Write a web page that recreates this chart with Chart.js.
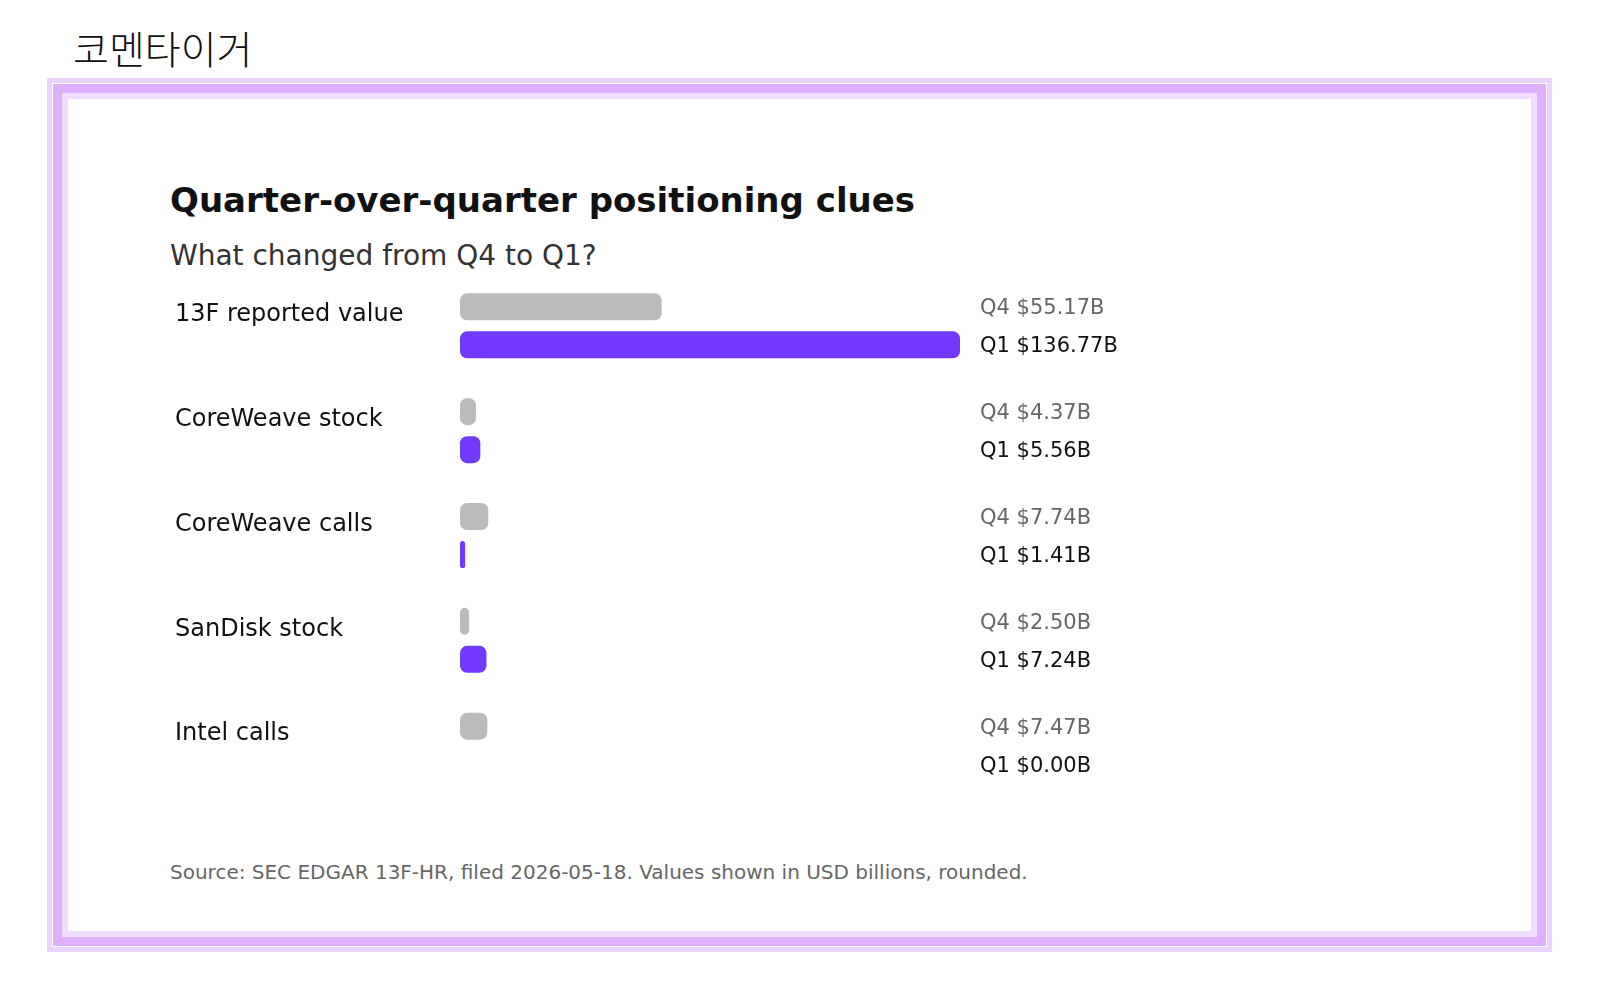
<!DOCTYPE html>
<html>
<head>
<meta charset="utf-8">
<script src="https://cdn.jsdelivr.net/npm/chart.js@4.4.1/dist/chart.umd.min.js"></script>
<style>
  html, body { margin: 0; padding: 0; background: #fff; }
  body { width: 1600px; height: 1000px; position: relative; overflow: hidden; font-family: "DejaVu Sans", sans-serif; }
  .brand { position: absolute; left: 73px; top: 22px; font-family: "Noto Sans CJK KR", sans-serif; font-size: 39px; font-weight: 300; color: #111; line-height: 50px; }
  .frame { position: absolute; left: 47px; top: 78px; width: 1505px; height: 874px; box-sizing: border-box; background: #ead3ff; }
  .frame .f1 { position: absolute; left: 5px; top: 5px; right: 5px; bottom: 5px; border: 1px solid #fff; background: #dfb0ff; }
  .frame .f2 { position: absolute; left: 9px; top: 9px; right: 9px; bottom: 9px; background: #f2ddff; }
  .frame .f3 { position: absolute; left: 6px; top: 6px; right: 6px; bottom: 6px; background: #fff; }
  h1 { position: absolute; left: 170px; top: 178px; margin: 0; font-size: 34px; font-weight: bold; color: #111; line-height: 44px; }
  .sub { position: absolute; left: 170px; top: 238px; font-size: 28px; color: #333; line-height: 36px; }
  .source { position: absolute; left: 170px; top: 860px; font-size: 20px; color: #666; line-height: 24px; }
  #wrap { position: absolute; left: 175px; top: 259px; width: 1025px; height: 553px; }
</style>
</head>
<body>
<div class="brand">코멘타이거</div>
<div class="frame"><div class="f1"><div class="f2"><div class="f3"></div></div></div></div>
<h1>Quarter-over-quarter positioning clues</h1>
<div class="sub">What changed from Q4 to Q1?</div>
<div id="wrap"><canvas id="chart"></canvas></div>
<div class="source">Source: SEC EDGAR 13F-HR, filed 2026-05-18. Values shown in USD billions, rounded.</div>

<script>
// Categories and values (USD billions)
const categories = ['13F reported value', 'CoreWeave stock', 'CoreWeave calls', 'SanDisk stock', 'Intel calls'];
const q4Values = [55.17, 4.37, 7.74, 2.50, 7.47];
const q1Values = [136.77, 5.56, 1.41, 7.24, 0.00];
const seriesNames = ['Q4', 'Q1'];

const GRAY = '#bbbbbb';
const PURPLE = '#7239ff';

// Draws "Q4 $xx.xxB" labels in a column right of the plot
const valueLabels = {
    id: 'valueLabels',
    afterDatasetsDraw(chart) {
        const ctx = chart.ctx;
        const x = chart.chartArea.right + 20;
        ctx.save();
        ctx.font = '21px "DejaVu Sans", sans-serif';
        ctx.textAlign = 'left';
        ctx.textBaseline = 'middle';
        chart.data.datasets.forEach((ds, i) => {
            const meta = chart.getDatasetMeta(i);
            ctx.fillStyle = i === 0 ? '#666666' : '#111111';
            meta.data.forEach((bar, j) => {
                ctx.fillText(seriesNames[i] + ' $' + ds.data[j].toFixed(2) + 'B', x, bar.y + 2);
            });
        });
        ctx.restore();
    }
};

// hide zero-length bars (rounded rect leaves a hairline otherwise)
const colorFor = (color) => (c) => (c.raw === 0 ? 'rgba(0,0,0,0)' : color);

const ctx = document.getElementById('chart').getContext('2d');
new Chart(ctx, {
    type: 'bar',
    data: {
        labels: categories,
        datasets: [
            {
                label: seriesNames[0],
                data: q4Values,
                backgroundColor: colorFor(GRAY),
                borderRadius: 7,
                borderSkipped: false,
                categoryPercentage: 0.725,
                barPercentage: 0.71
            },
            {
                label: seriesNames[1],
                data: q1Values,
                backgroundColor: colorFor(PURPLE),
                borderRadius: 7,
                borderSkipped: false,
                categoryPercentage: 0.725,
                barPercentage: 0.71
            }
        ]
    },
    options: {
        indexAxis: 'y',
        responsive: true,
        maintainAspectRatio: false,
        animation: false,
        layout: { padding: { left: 0, right: 240, top: 0, bottom: 0 } },
        plugins: {
            legend: { display: false },
            tooltip: { enabled: false }
        },
        scales: {
            x: {
                display: false,
                min: 0,
                max: Math.max(...q1Values, ...q4Values)
            },
            y: {
                grid: { display: false, drawTicks: false },
                border: { display: false },
                afterFit(scale) { scale.width = 285; },
                ticks: {
                    crossAlign: 'far',
                    padding: 0,
                    labelOffset: -11,
                    color: '#111',
                    font: { family: 'DejaVu Sans', size: 24, lineHeight: 1.2 }
                }
            }
        }
    },
    plugins: [valueLabels]
});
</script>
</body>
</html>
